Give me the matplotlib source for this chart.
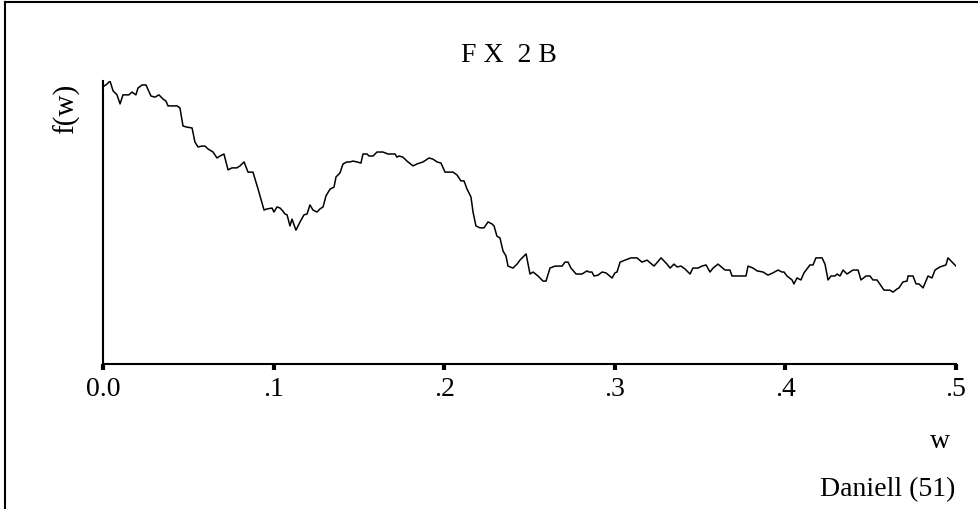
import matplotlib
matplotlib.use('Agg')
import matplotlib.pyplot as plt
from matplotlib.lines import Line2D

# frequency w and smoothed spectrum f(w)
w = [0.0006, 0.0023, 0.0041, 0.0059, 0.0082, 0.0100, 0.0117, 0.0152, 0.0170, 0.0193,
     0.0205, 0.0229, 0.0252, 0.0281, 0.0305, 0.0328, 0.0352, 0.0369, 0.0381, 0.0434,
     0.0451, 0.0469, 0.0492, 0.0522, 0.0539, 0.0557, 0.0580, 0.0598, 0.0615, 0.0645,
     0.0668, 0.0686, 0.0709, 0.0733, 0.0756, 0.0785, 0.0803, 0.0827, 0.0850, 0.0879,
     0.0909, 0.0944, 0.0961, 0.0991, 0.1002, 0.1020, 0.1038,
     0.1049, 0.1067, 0.1079, 0.1096, 0.1108, 0.1131, 0.1155, 0.1178, 0.1196, 0.1213,
     0.1231, 0.1254, 0.1272, 0.1290, 0.1307, 0.1331, 0.1354, 0.1366, 0.1389, 0.1407,
     0.1430, 0.1448, 0.1465, 0.1489, 0.1512, 0.1524, 0.1548, 0.1559, 0.1583, 0.1606,
     0.1641, 0.1671, 0.1712, 0.1723, 0.1735, 0.1758, 0.1782, 0.1817, 0.1841, 0.1876,
     0.1911, 0.1934, 0.1958, 0.1981, 0.2005, 0.2034,
     0.2052, 0.2075, 0.2098, 0.2116, 0.2134, 0.2157, 0.2169, 0.2186, 0.2210, 0.2233,
     0.2257, 0.2280, 0.2292, 0.2309, 0.2327, 0.2345, 0.2362, 0.2374, 0.2403, 0.2427,
     0.2444, 0.2462, 0.2480, 0.2503, 0.2521, 0.2550, 0.2579, 0.2597, 0.2620, 0.2650,
     0.2691, 0.2708, 0.2726, 0.2743, 0.2773, 0.2808, 0.2837, 0.2849, 0.2866, 0.2878,
     0.2902, 0.2925, 0.2948, 0.2984, 0.3001, 0.3013, 0.3031,
     0.3060, 0.3095, 0.3130, 0.3159, 0.3189, 0.3230, 0.3271, 0.3306, 0.3324, 0.3347,
     0.3365, 0.3388, 0.3411, 0.3441, 0.3458, 0.3488, 0.3511, 0.3535, 0.3558, 0.3576,
     0.3605, 0.3646, 0.3675, 0.3687, 0.3769, 0.3781, 0.3810, 0.3834, 0.3869, 0.3898,
     0.3927, 0.3957, 0.3980, 0.3992, 0.4009, 0.4039, 0.4050, 0.4068, 0.4091, 0.4109,
     0.4144, 0.4162, 0.4179, 0.4215, 0.4232, 0.4250, 0.4267, 0.4291, 0.4303, 0.4320,
     0.4338, 0.4361, 0.4396, 0.4426, 0.4443, 0.4473, 0.4496, 0.4513, 0.4537, 0.4578,
     0.4613, 0.4631, 0.4654, 0.4666, 0.4689, 0.4713, 0.4719, 0.4748, 0.4766, 0.4783,
     0.4807, 0.4836, 0.4859, 0.4877, 0.4906, 0.4941, 0.4953, 0.5000]
f = [0.982, 0.989, 1.000, 0.965, 0.951, 0.919, 0.951, 0.951, 0.961, 0.951,
     0.975, 0.986, 0.986, 0.947, 0.943, 0.951, 0.936, 0.929, 0.912, 0.912,
     0.905, 0.841, 0.837, 0.834, 0.784, 0.767, 0.770, 0.770, 0.760, 0.749,
     0.728, 0.735, 0.742, 0.686, 0.693, 0.693, 0.700, 0.714, 0.678, 0.678,
     0.618, 0.544, 0.548, 0.551, 0.537, 0.555, 0.551,
     0.544, 0.530, 0.527, 0.488, 0.512, 0.473, 0.502, 0.527, 0.530, 0.562,
     0.544, 0.537, 0.548, 0.555, 0.594, 0.618, 0.625, 0.661, 0.675, 0.707,
     0.714, 0.714, 0.717, 0.714, 0.710, 0.742, 0.742, 0.735, 0.735, 0.749,
     0.749, 0.742, 0.742, 0.731, 0.735, 0.731, 0.717, 0.700, 0.707, 0.714,
     0.728, 0.724, 0.714, 0.710, 0.678, 0.678,
     0.678, 0.668, 0.647, 0.647, 0.618, 0.590, 0.537, 0.488, 0.481, 0.481,
     0.502, 0.495, 0.488, 0.452, 0.445, 0.399, 0.382, 0.346, 0.339, 0.353,
     0.367, 0.378, 0.389, 0.318, 0.325, 0.311, 0.293, 0.293, 0.339, 0.346,
     0.346, 0.360, 0.360, 0.339, 0.318, 0.318, 0.329, 0.325, 0.325, 0.311,
     0.314, 0.325, 0.322, 0.304, 0.322, 0.325, 0.360,
     0.367, 0.375, 0.375, 0.360, 0.367, 0.346, 0.375, 0.353, 0.339, 0.353,
     0.343, 0.346, 0.336, 0.318, 0.339, 0.339, 0.346, 0.350, 0.325, 0.339,
     0.353, 0.332, 0.332, 0.311, 0.311, 0.346, 0.339, 0.329, 0.325, 0.314,
     0.322, 0.332, 0.325, 0.325, 0.311, 0.297, 0.283, 0.304, 0.297, 0.322,
     0.350, 0.350, 0.375, 0.375, 0.353, 0.297, 0.311, 0.311, 0.318, 0.311,
     0.332, 0.318, 0.332, 0.332, 0.297, 0.311, 0.311, 0.297, 0.297, 0.261,
     0.261, 0.254, 0.265, 0.269, 0.290, 0.293, 0.311, 0.311, 0.283, 0.283,
     0.269, 0.311, 0.304, 0.332, 0.343, 0.350, 0.375, 0.346]

xticks = [0.0, 0.1, 0.2, 0.3, 0.4, 0.5]
xticklabels = ['0.0', '.1', '.2', '.3', '.4', '.5']

plt.rcParams['font.family'] = ['Liberation Serif', 'DejaVu Serif']

fig = plt.figure(figsize=(9.79, 5.10), dpi=100)
ax = fig.add_axes([103 / 979, 1 - 365 / 510, (956 - 103) / 979, (365 - 82) / 510])

ax.plot(w, f, color='black', lw=1.1)
ax.set_xlim(0, 0.5)
ax.set_ylim(0, 1.0)

ax.spines['top'].set_visible(False)
ax.spines['right'].set_visible(False)
ax.spines['left'].set_linewidth(1.5)
ax.spines['bottom'].set_linewidth(1.5)
ax.set_yticks([])
ax.set_xticks(xticks)
ax.set_xticklabels(xticklabels)
ax.tick_params(axis='x', direction='out', length=4, width=3, labelsize=20, pad=5)

fig.text(509 / 979, 1 - 55 / 510, 'F X  2 B', ha='center', va='center', fontsize=20)
fig.text(66 / 979, 1 - 109 / 510, 'f(w)', ha='center', va='center', rotation=90, fontsize=21)
fig.text(940 / 979, 1 - 442 / 510, 'w', ha='center', va='center', fontsize=20)
fig.text(955 / 979, 1 - 490 / 510, 'Daniell (51)', ha='right', va='center', fontsize=20)

# outer frame (only top and left edges visible)
fig.add_artist(Line2D([5 / 979, 1.0], [1 - 3 / 510, 1 - 3 / 510], transform=fig.transFigure, color='black', lw=1.5))
fig.add_artist(Line2D([5 / 979, 5 / 979], [0.0, 1 - 3 / 510], transform=fig.transFigure, color='black', lw=1.5))

plt.savefig('out.png', dpi=100)
